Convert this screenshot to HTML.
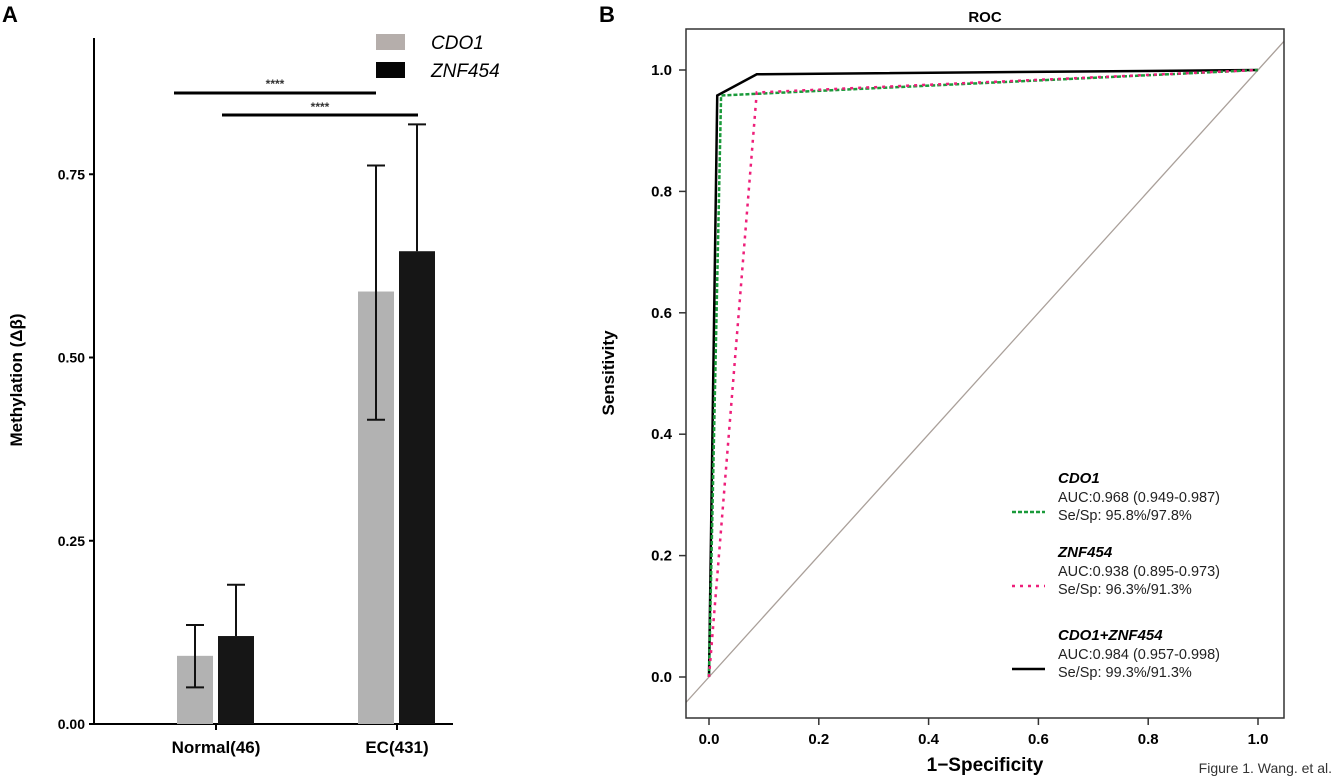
<!DOCTYPE html>
<html><head><meta charset="utf-8"><style>
html,body{margin:0;padding:0;background:#fff;}
svg{display:block;font-family:"Liberation Sans",Arial,sans-serif;}
</style></head><body>
<svg id="fig" width="1337" height="780" viewBox="0 0 1337 780" xmlns="http://www.w3.org/2000/svg">
<text x="2" y="22" font-size="22" font-weight="bold">A</text>
<text x="599" y="22" font-size="22" font-weight="bold">B</text>
<g id="pa"></g>
<g id="pb"></g>
<text x="1332" y="773" font-size="14" text-anchor="end" fill="#333">Figure 1. Wang. et al.</text>
</svg>
<script>
const NS="http://www.w3.org/2000/svg";
// Panel A data
const groups=["Normal(46)","EC(431)"];
const cdo1Mean=[0.093,0.59];
const cdo1Lo=[0.05,0.415];
const cdo1Hi=[0.135,0.762];
const znfMean=[0.12,0.645];
const znfLo=[0.12,0.645];
const znfHi=[0.19,0.818];
const yTicksA=[0,0.25,0.5,0.75];
const yTickLabelsA=["0.00","0.25","0.50","0.75"];
// Panel B data
const rocCdo1X=[0,0.022,1];
const rocCdo1Y=[0,0.958,1];
const rocZnfX=[0,0.087,1];
const rocZnfY=[0,0.963,1];
const rocCombX=[0,0.015,0.087,1];
const rocCombY=[0,0.958,0.993,1];
const tickB=[0,0.2,0.4,0.6,0.8,1.0];

function mk(parent,tag,attrs,txt){const e=document.createElementNS(NS,tag);for(const k in attrs)e.setAttribute(k,attrs[k]);if(txt!==undefined)e.textContent=txt;parent.appendChild(e);return e;}

// ---- Panel A
const pa=document.getElementById('pa');
const yA=v=>724-v*733;
const gx=[216,397];
let e;
e=mk(pa,'line',{x1:94,y1:38,x2:94,y2:725,stroke:'#000','stroke-width':2});


e=mk(pa,'line',{x1:93,y1:724,x2:453,y2:724,stroke:'#000','stroke-width':2});


yTicksA.forEach((v,i)=>{
  mk(pa,'line',{x1:89,y1:yA(v),x2:94,y2:yA(v),stroke:'#000','stroke-width':2});
  e=mk(pa,'text',{x:85,y:yA(v)+5,'font-size':14,'font-weight':'bold','text-anchor':'end'},yTickLabelsA[i]);
  
  
});
e=mk(pa,'text',{x:0,y:0,'font-size':17,'font-weight':'bold','text-anchor':'middle',transform:'translate(22,380) rotate(-90)'},'Methylation (Δβ)');


groups.forEach((g,i)=>{
  const c=gx[i];
  mk(pa,'line',{x1:c,y1:724,x2:c,y2:730,stroke:'#000','stroke-width':2});
  e=mk(pa,'text',{x:c,y:753,'font-size':17,'font-weight':'bold','text-anchor':'middle'},g);
  
  
  e=mk(pa,'rect',{x:c-39,y:yA(cdo1Mean[i]),width:36,height:724-yA(cdo1Mean[i]),fill:'#b2b2b2'});
  
  
  e=mk(pa,'rect',{x:c+2,y:yA(znfMean[i]),width:36,height:724-yA(znfMean[i]),fill:'#161616'});
  
  
  const ec=c-21, ez=c+20;
  e=mk(pa,'path',{d:`M${ec},${yA(cdo1Lo[i])}V${yA(cdo1Hi[i])}M${ec-9},${yA(cdo1Hi[i])}H${ec+9}M${ec-9},${yA(cdo1Lo[i])}H${ec+9}`,stroke:'#111','stroke-width':2,fill:'none'});
  
  
  e=mk(pa,'path',{d:`M${ez},${yA(znfLo[i])}V${yA(znfHi[i])}M${ez-9},${yA(znfHi[i])}H${ez+9}`,stroke:'#111','stroke-width':2,fill:'none'});
  
  
});
e=mk(pa,'line',{x1:174,y1:93,x2:376,y2:93,stroke:'#000','stroke-width':3});


e=mk(pa,'text',{x:275,y:88,'font-size':12,'font-weight':'bold','text-anchor':'middle',fill:'#333'},'****');


e=mk(pa,'line',{x1:222,y1:115,x2:418,y2:115,stroke:'#000','stroke-width':3});


e=mk(pa,'text',{x:320,y:111,'font-size':12,'font-weight':'bold','text-anchor':'middle',fill:'#333'},'****');


e=mk(pa,'rect',{x:376,y:34,width:29,height:16,fill:'#b5aeab'});


e=mk(pa,'text',{x:431,y:49,'font-size':19,'font-style':'italic'},'CDO1');


e=mk(pa,'rect',{x:376,y:62,width:29,height:16,fill:'#050505'});


e=mk(pa,'text',{x:431,y:77,'font-size':19,'font-style':'italic'},'ZNF454');



// ---- Panel B
const pb=document.getElementById('pb');
const xB=v=>709+v*549;
const yB=v=>677-v*607;
e=mk(pb,'text',{x:985,y:22,'font-size':15,'font-weight':'bold','text-anchor':'middle'},'ROC');


const clip=mk(pb,'clipPath',{id:'bclip'});
mk(clip,'rect',{x:686,y:29,width:598,height:689});
e=mk(pb,'line',{x1:xB(-0.042),y1:yB(-0.042),x2:xB(1.047),y2:yB(1.047),stroke:'#aaa09a','stroke-width':1.3,'clip-path':'url(#bclip)'});


function poly(xs,ys,attrs,name){
  const pts=xs.map((x,i)=>xB(x)+','+yB(ys[i])).join(' ');
  const p=mk(pb,'polyline',Object.assign({points:pts,fill:'none'},attrs));
  
  
}
poly(rocCombX,rocCombY,{stroke:'#000','stroke-width':2.5},'roc-line-combined');
poly(rocCdo1X,rocCdo1Y,{stroke:'#1a9a3a','stroke-width':2.5,'stroke-dasharray':'4,2'},'roc-line-cdo1');
poly(rocZnfX,rocZnfY,{stroke:'#ee1f7a','stroke-width':2.5,'stroke-dasharray':'3,5'},'roc-line-znf454');
e=mk(pb,'rect',{x:686,y:29,width:598,height:689,fill:'none',stroke:'#333','stroke-width':1.5});


tickB.forEach(v=>{
  mk(pb,'line',{x1:679,y1:yB(v),x2:686,y2:yB(v),stroke:'#333','stroke-width':1.5});
  e=mk(pb,'text',{x:672,y:yB(v)+5,'font-size':15,'font-weight':'bold','text-anchor':'end'},v.toFixed(1));
  
  
  mk(pb,'line',{x1:xB(v),y1:718,x2:xB(v),y2:725,stroke:'#333','stroke-width':1.5});
  e=mk(pb,'text',{x:xB(v),y:744,'font-size':15,'font-weight':'bold','text-anchor':'middle'},v.toFixed(1));
  
  
});
e=mk(pb,'text',{x:985,y:771,'font-size':19,'font-weight':'bold','text-anchor':'middle'},'1−Specificity');


e=mk(pb,'text',{x:0,y:0,'font-size':17,'font-weight':'bold','text-anchor':'middle',transform:'translate(614,373) rotate(-90)'},'Sensitivity');


// legend
const leg=[
 {t:'CDO1',a:'AUC:0.968 (0.949-0.987)',s:'Se/Sp: 95.8%/97.8%',y:483,st:{stroke:'#1a9a3a','stroke-dasharray':'4,2'},n:'cdo1'},
 {t:'ZNF454',a:'AUC:0.938 (0.895-0.973)',s:'Se/Sp: 96.3%/91.3%',y:557,st:{stroke:'#ee1f7a','stroke-dasharray':'3,5'},n:'znf454'},
 {t:'CDO1+ZNF454',a:'AUC:0.984 (0.957-0.998)',s:'Se/Sp: 99.3%/91.3%',y:640,st:{stroke:'#000'},n:'combined'}];
leg.forEach(L=>{
  const g=mk(pb,'g',{});
  
  
  mk(g,'line',Object.assign({x1:1012,y1:L.y+29,x2:1045,y2:L.y+29,'stroke-width':2.5},L.st));
  mk(g,'text',{x:1058,y:L.y,'font-size':15,'font-weight':'bold','font-style':'italic'},L.t);
  mk(g,'text',{x:1058,y:L.y+19,'font-size':14.5,fill:'#222'},L.a);
  mk(g,'text',{x:1058,y:L.y+37,'font-size':14.5,fill:'#222'},L.s);
});
</script>
</body></html>
